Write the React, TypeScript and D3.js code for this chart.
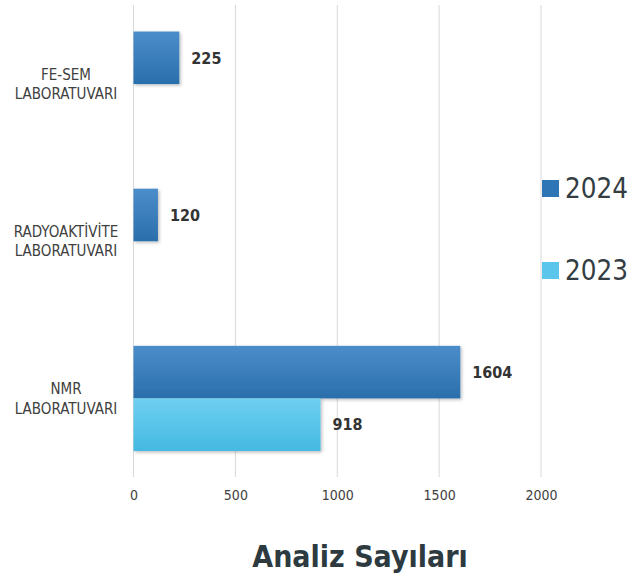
import React, { useEffect, useRef } from 'react';
import * as d3 from 'd3';

// Data
const categories = ['FE-SEM\nLABORATUVARI', 'RADYOAKTİVİTE\nLABORATUVARI', 'NMR\nLABORATUVARI'];
const series = ['2024', '2023'];
const values2024 = [225, 120, 1604];
const values2023 = [0, 0, 918];
const xTicks = [0, 500, 1000, 1500, 2000];

const FONT = '"DejaVu Sans Condensed", "DejaVu Sans", sans-serif';

const App = () => {
  const svgRef = useRef<SVGSVGElement>(null);

  useEffect(() => {
    const width = 643;
    const height = 580;

    const svg = d3.select(svgRef.current);
    svg.selectAll('*').remove();
    svg.attr('width', width).attr('height', height);

    const x = d3.scaleLinear().domain([0, 2000]).range([133.5, 541]);

    const y = d3
      .scaleBand()
      .domain(categories)
      .range([5.5, 477])
      .paddingInner(0.331)
      .paddingOuter(0.1655);

    const ySub = d3.scaleBand().domain(series).range([0, y.bandwidth()]);

    const seriesValues: Record<string, number[]> = { '2024': values2024, '2023': values2023 };

    // Defs: gradients + shadow
    const defs = svg.append('defs');
    const grad = (id: string, top: string, bottom: string) => {
      const g = defs
        .append('linearGradient')
        .attr('id', id)
        .attr('x1', '0%')
        .attr('y1', '0%')
        .attr('x2', '0%')
        .attr('y2', '100%');
      g.append('stop').attr('offset', '0%').attr('stop-color', top);
      g.append('stop').attr('offset', '100%').attr('stop-color', bottom);
    };
    grad('grad-2024', '#4b8dca', '#2a6fac');
    grad('grad-2023', '#6ecff1', '#44b9e2');

    const shadow = defs.append('filter').attr('id', 'bar-shadow').attr('x', '-10%').attr('y', '-10%').attr('width', '130%').attr('height', '130%');
    shadow
      .append('feDropShadow')
      .attr('dx', 1.5)
      .attr('dy', 1.5)
      .attr('stdDeviation', 1.5)
      .attr('flood-color', '#000')
      .attr('flood-opacity', 0.25);

    // Gridlines
    svg
      .append('g')
      .selectAll('line')
      .data(xTicks)
      .enter()
      .append('line')
      .attr('x1', (d) => x(d))
      .attr('x2', (d) => x(d))
      .attr('y1', 5)
      .attr('y2', 477)
      .attr('stroke', '#d9d9d9')
      .attr('stroke-width', 1);

    // Bars
    series.forEach((s) => {
      categories.forEach((c, i) => {
        const v = seriesValues[s][i];
        if (v <= 0) return;
        svg
          .append('rect')
          .attr('x', x(0))
          .attr('y', y(c)! + ySub(s)!)
          .attr('width', x(v) - x(0))
          .attr('height', ySub.bandwidth())
          .attr('fill', `url(#grad-${s})`)
          .attr('filter', 'url(#bar-shadow)');
      });
    });

    // Value labels
    series.forEach((s) => {
      categories.forEach((c, i) => {
        const v = seriesValues[s][i];
        if (v <= 0) return;
        svg
          .append('text')
          .attr('x', x(v) + 12)
          .attr('y', y(c)! + ySub(s)! + ySub.bandwidth() / 2)
          .attr('dy', '0.36em')
          .attr('font-family', FONT)
          .attr('font-weight', 'bold')
          .attr('font-size', 16)
          .attr('fill', '#333333')
          .text(v);
      });
    });

    // Category labels
    categories.forEach((c) => {
      const lines = c.split('\n');
      const cy = y(c)! + y.bandwidth() / 2;
      const t = svg
        .append('text')
        .attr('text-anchor', 'middle')
        .attr('font-family', FONT)
        .attr('font-size', 15)
        .attr('fill', '#404040');
      lines.forEach((l, i) => {
        t.append('tspan')
          .attr('x', 66)
          .attr('y', cy + (i - (lines.length - 1) / 2) * 19.5)
          .attr('dy', '0.36em')
          .text(l);
      });
    });

    // X axis
    const axis = svg
      .append('g')
      .attr('transform', 'translate(0,484)')
      .call(d3.axisBottom(x).tickValues(xTicks).tickSize(0).tickPadding(6).tickFormat(d3.format('d')));
    axis.select('.domain').remove();
    axis
      .selectAll('text')
      .attr('font-family', FONT)
      .attr('font-size', 14)
      .attr('fill', '#404040');

    // Legend
    const legendY = [188.5, 270.5];
    const legendColors = ['#2e75b6', '#5bc5eb'];
    series.forEach((s, i) => {
      svg
        .append('rect')
        .attr('x', 542)
        .attr('y', legendY[i] - 8.5)
        .attr('width', 17)
        .attr('height', 17)
        .attr('fill', legendColors[i]);
      svg
        .append('text')
        .attr('x', 565)
        .attr('y', legendY[i])
        .attr('dy', '0.36em')
        .attr('font-family', FONT)
        .attr('font-size', 27.5)
        .attr('fill', '#333d42')
        .text(s);
    });

    // Title
    svg
      .append('text')
      .attr('x', 360)
      .attr('y', 567)
      .attr('text-anchor', 'middle')
      .attr('font-family', FONT)
      .attr('font-weight', 'bold')
      .attr('font-size', 30)
      .attr('fill', '#2d3a3f')
      .text('Analiz Sayıları');
  }, []);

  return (
    <div style={{ position: 'absolute', left: 0, top: 0, background: '#fff' }}>
      <svg ref={svgRef} style={{ display: 'block' }}></svg>
    </div>
  );
};

export default App;
